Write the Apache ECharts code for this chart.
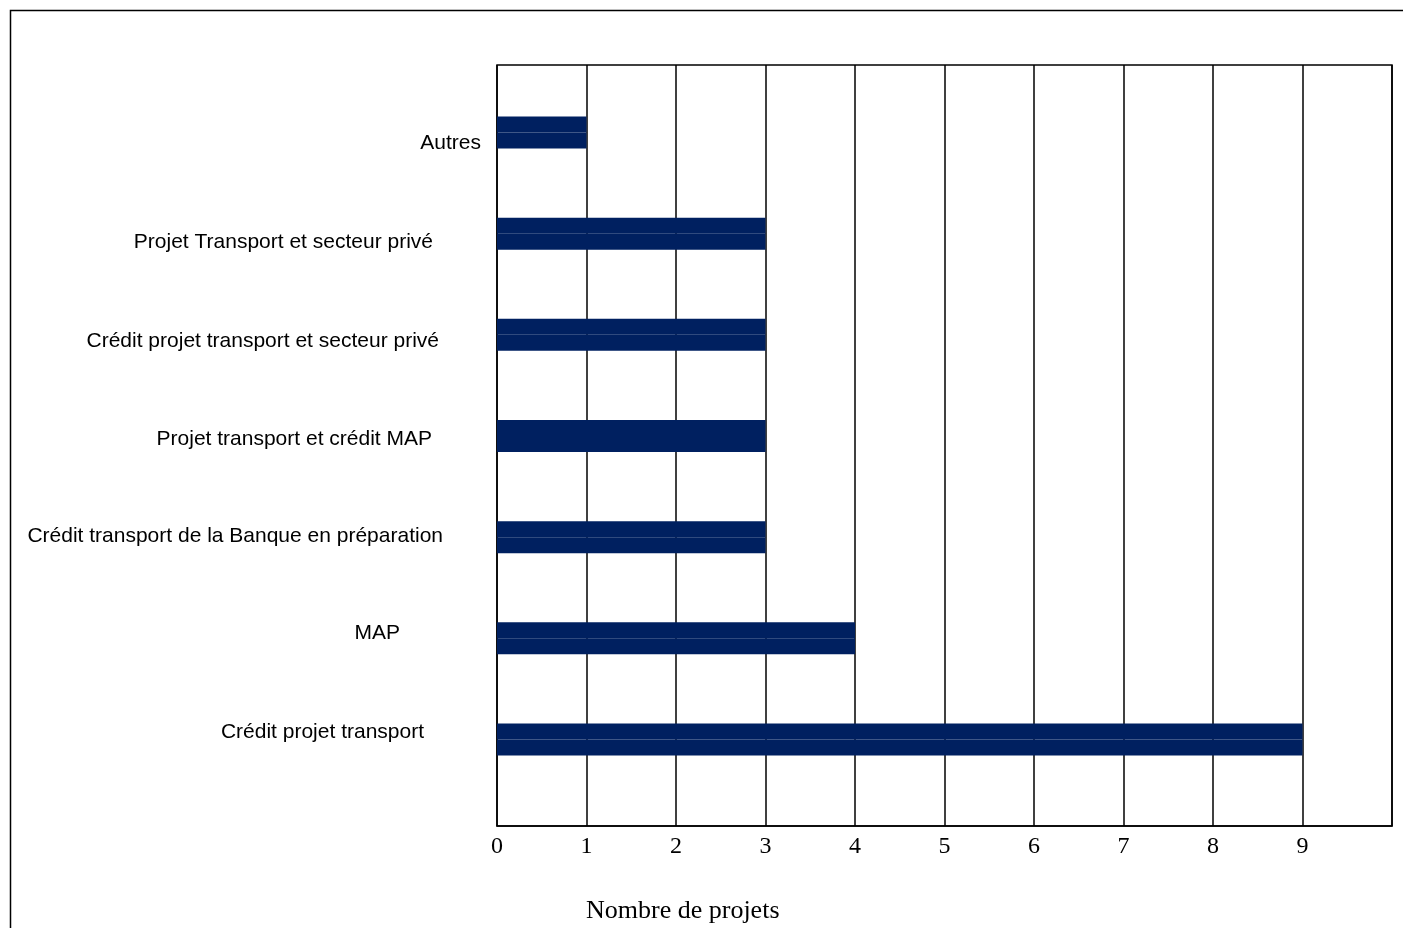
<!DOCTYPE html>
<html>
<head>
<meta charset="utf-8">
<script src="https://cdn.jsdelivr.net/npm/echarts@6/dist/echarts.min.js"></script>
<style>
  html, body { margin: 0; padding: 0; background: #fff; }
  #main { width: 1403px; height: 928px; }
</style>
</head>
<body>
<div id="main"></div>
<script>
// categories, top to bottom
const categories = [
  'Autres',
  'Projet Transport et secteur privé',
  'Crédit projet transport et secteur privé',
  'Projet transport et crédit MAP',
  'Crédit transport de la Banque en préparation',
  'MAP',
  'Crédit projet transport'
];
const seriesA = [1, 3, 3, 3, 3, 4, 9];
const seriesB = [1, 3, 3, 3, 3, 4, 9];
const xTicks = ['0', '1', '2', '3', '4', '5', '6', '7', '8', '9'];

// label placement tweaks (labels are not aligned in the original)
const labelPadRight = [0, 48, 42, 49, 38, 81, 57];
const labelShiftDown = [11, 8, 6, 3, -1, -5, -7];
const rich = {};
labelPadRight.forEach((p, i) => {
  const d = labelShiftDown[i];
  rich['p' + i] = {
    fontFamily: 'Liberation Sans', fontSize: 21, color: '#000',
    padding: [d > 0 ? 2 * d : 0, p, d < 0 ? -2 * d : 0, 0]
  };
});

const chart = echarts.init(document.getElementById('main'));
const option = {
  animation: false,
  backgroundColor: '#fff',
  title: {
    text: 'Nombre de projets',
    left: 581,
    top: 893,
    textStyle: { fontFamily: 'Liberation Serif', fontSize: 26, fontWeight: 'normal', color: '#000' }
  },
  graphic: [{
    type: 'rect',
    shape: { x: 10.5, y: 10.5, width: 1400, height: 930 },
    style: { fill: 'none', stroke: '#000', lineWidth: 1.5 },
    silent: true
  }],
  grid: [
    // frame + gridlines
    { left: 497, right: 11, top: 65, bottom: 102, show: true, borderColor: '#000', borderWidth: 1.5 },
    // bars
    { left: 497, right: 11, top: 82, height: 708 }
  ],
  xAxis: [
    {
      gridIndex: 0, type: 'value', min: 0, max: 10, interval: 1,
      axisLine: { show: true, lineStyle: { color: '#000', width: 1.5 } },
      axisTick: { show: false },
      splitLine: { show: true, lineStyle: { color: '#000', width: 1.5 } },
      axisLabel: {
        margin: 9,
        fontFamily: 'Liberation Serif', fontSize: 24, color: '#000',
        formatter: (v) => (xTicks[v] !== undefined ? xTicks[v] : '')
      }
    },
    {
      gridIndex: 1, type: 'value', min: 0, max: 10, show: false,
      splitLine: { show: false }
    }
  ],
  yAxis: [
    {
      gridIndex: 0, type: 'value', min: 0, max: 1, show: false, splitLine: { show: false }
    },
    {
      gridIndex: 1, type: 'category', data: categories, inverse: true,
      axisLine: { show: false },
      axisTick: { show: false },
      splitLine: { show: false },
      axisLabel: {
        margin: 16,
        formatter: (v, i) => '{p' + i + '|' + v + '}',
        rich: rich
      }
    }
  ],
  series: [
    {
      name: 'A', type: 'bar', xAxisIndex: 1, yAxisIndex: 1, data: seriesA,
      barWidth: 16, barGap: '0%',
      itemStyle: { color: '#002060' }
    },
    {
      name: 'B', type: 'bar', xAxisIndex: 1, yAxisIndex: 1, data: seriesB,
      barWidth: 16, barGap: '0%',
      itemStyle: { color: '#002060' }
    }
  ]
};
chart.setOption(option);
</script>
</body>
</html>
